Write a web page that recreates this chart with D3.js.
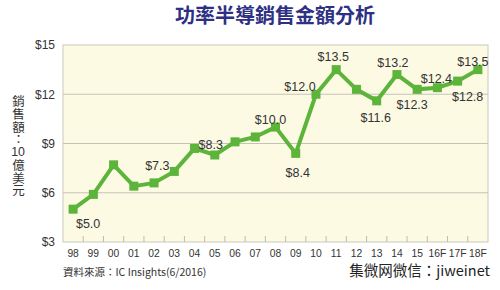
<!DOCTYPE html>
<html><head><meta charset="utf-8">
<script src="https://cdn.jsdelivr.net/npm/d3@7"></script>
<style>
html,body{margin:0;padding:0;background:#fff;}
svg{display:block;}
text{font-family:"Liberation Sans","DejaVu Sans",sans-serif;}
.cjk{font-family:"Noto Sans CJK TC","Noto Sans CJK SC",sans-serif;}
#wrap{position:relative;width:500px;height:290px;}
#ytitle{position:absolute;left:10px;top:95px;writing-mode:vertical-rl;text-orientation:upright;
  font-family:"Noto Sans CJK TC","Noto Sans CJK SC",sans-serif;font-size:12.5px;line-height:16px;color:#333;letter-spacing:0.3px;}
#ytitle .tcy{text-combine-upright:all;font-family:"Liberation Sans",sans-serif;}
</style></head><body>
<div id="wrap">
<svg id="c" width="500" height="290"></svg>
<div id="ytitle"></div>
</div>
<script>
const categories = ["98","99","00","01","02","03","04","05","06","07","08","09","10","11","12","13","14","15","16F","17F","18F"];
const sales = [5.0,5.9,7.7,6.4,6.6,7.3,8.7,8.3,9.1,9.4,10.0,8.4,12.0,13.5,12.3,11.6,13.2,12.3,12.4,12.8,13.5];
const yTicks = [3,6,9,12,15];
const labeledCategories = ["98","03","05","08","09","10","11","13","14","15","16F","17F","18F"];
const title = "功率半導銷售金額分析";
const yTitleParts = ["銷售額：","10","億美元"];
const sourceText = "資料來源：IC Insights(6/2016)";
const brandText = "集微网微信：jiweinet";

// layout (label placement relative to point, px)
const labelOffset = {"98":[15,15],"03":[-17,-5],"05":[-4,-10],"08":[-5,-7],"09":[2,20],"10":[-16,-7],"11":[-3,-13],"13":[-1,17],"14":[-4,-12],"15":[-5,16],"16F":[-1,-9],"17F":[10,16],"18F":[-5,-8]};

const svg = d3.select("#c");
const m = {l:63, r:12, t:45, b:48};
const W = 500, H = 290;
const x = d3.scaleBand().domain(categories).range([m.l, W-m.r]);
const y = d3.scaleLinear().domain([3,15]).range([H-m.b, m.t]);

// plot background
svg.append("rect").attr("x",m.l).attr("y",m.t).attr("width",W-m.r-m.l).attr("height",H-m.b-m.t)
  .attr("fill","#fdfae4").attr("stroke","#c9c8bb").attr("stroke-width",1);

// gridlines
svg.append("g").selectAll("line").data(yTicks.filter(d=>d>3&&d<15)).join("line")
  .attr("x1",m.l).attr("x2",W-m.r).attr("y1",d=>y(d)).attr("y2",d=>y(d))
  .attr("stroke","#c4c3b6").attr("stroke-width",1);

// bottom tick marks at band boundaries
const bounds = categories.slice(1).map(c=>x(c));
svg.append("g").selectAll("line").data(bounds).join("line")
  .attr("x1",d=>d).attr("x2",d=>d).attr("y1",H-m.b-6).attr("y2",H-m.b)
  .attr("stroke","#bdbcb0").attr("stroke-width",1);

// y axis labels
const yAxis = d3.axisLeft(y).tickValues(yTicks).tickFormat(d=>"$"+d).tickSize(0).tickPadding(8);
const ya = svg.append("g").attr("transform",`translate(${m.l},0)`).call(yAxis);
ya.select(".domain").remove();
ya.selectAll("text").attr("font-size",12).attr("fill","#333").attr("font-family","Liberation Sans, sans-serif");

// x axis labels
const xAxis = d3.axisBottom(x).tickSize(0).tickPadding(8);
const xa = svg.append("g").attr("transform",`translate(0,${H-m.b})`).call(xAxis);
xa.select(".domain").remove();
xa.selectAll("text").attr("font-size",10.3).attr("fill","#333").attr("font-family","Liberation Sans, sans-serif");

// line
const cx = c => x(c) + x.bandwidth()/2;
const line = d3.line().x((d,i)=>cx(categories[i])).y(d=>y(d));
svg.append("path").datum(sales).attr("d",line).attr("fill","none")
  .attr("stroke","#5cb43a").attr("stroke-width",4).attr("stroke-linejoin","miter");

// markers
const ms = 9;
svg.append("g").selectAll("rect").data(sales).join("rect")
  .attr("x",(d,i)=>cx(categories[i])-ms/2).attr("y",d=>y(d)-ms/2)
  .attr("width",ms).attr("height",ms).attr("fill","#5cb43a");

// data labels
svg.append("g").selectAll("text").data(labeledCategories).join("text")
  .attr("x",c=>cx(c)+labelOffset[c][0])
  .attr("y",c=>y(sales[categories.indexOf(c)])+labelOffset[c][1]+4)
  .attr("text-anchor","middle").attr("font-size",12.5).attr("fill","#333")
  .text(c=>"$"+sales[categories.indexOf(c)].toFixed(1));

// title
svg.append("text").attr("class","cjk").attr("x",275).attr("y",23).attr("text-anchor","middle")
  .attr("font-size",20).attr("font-weight","bold").attr("fill","#2e3183").text(title);

// y title (vertical, single element)
d3.select("#ytitle").selectAll("span").data(yTitleParts).join("span")
  .attr("class",(d,i)=>i===1?"tcy":null).text(d=>d);

// source
svg.append("text").attr("class","cjk").attr("x",63).attr("y",276).attr("font-size",10.5).attr("fill","#333").text(sourceText);
// brand
svg.append("text").attr("class","cjk").attr("x",490).attr("y",276).attr("text-anchor","end").attr("font-size",14.5).attr("fill","#222").text(brandText);
</script>
</body></html>
